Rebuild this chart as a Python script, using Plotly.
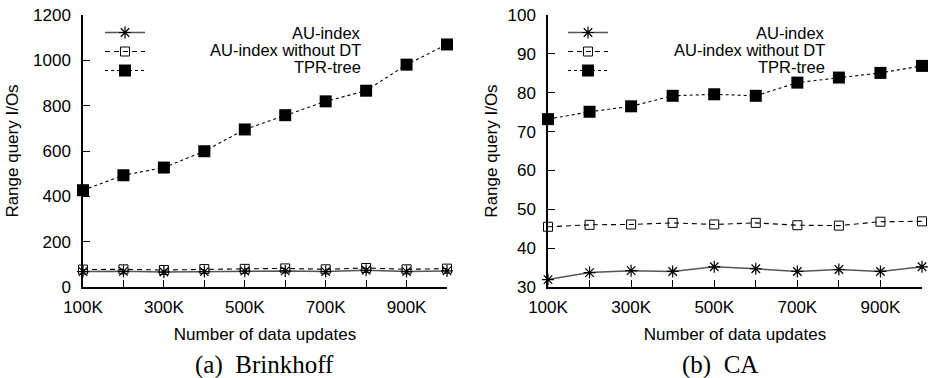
import plotly.graph_objects as go

x_vals = [100000, 200000, 300000, 400000, 500000, 600000, 700000, 800000, 900000, 1000000]
x_ticktext = ["100K", "", "300K", "", "500K", "", "700K", "", "900K", ""]
series_names = ["AU-index", "AU-index without DT", "TPR-tree"]

brink_au = [68, 69, 66, 68, 70, 71, 68, 74, 68, 71]
brink_nodt = [77, 78, 75, 79, 80, 82, 78, 84, 78, 81]
brink_tpr = [427, 493, 527, 599, 695, 758, 819, 866, 981, 1070]

ca_au = [31.9, 33.7, 34.2, 34.0, 35.2, 34.7, 34.0, 34.5, 34.0, 35.2]
ca_nodt = [45.5, 46.0, 46.1, 46.5, 46.1, 46.5, 45.9, 45.8, 46.8, 46.9]
ca_tpr = [73.2, 75.1, 76.5, 79.2, 79.6, 79.2, 82.6, 83.9, 85.1, 86.9]

W, H = 929, 378
FONT = "Liberation Sans, Arial, sans-serif"

styles = [
    dict(line=dict(color="#555555", width=1.5, dash="solid"),
         marker=dict(symbol="asterisk-open", size=10, color="black", line=dict(color="black", width=1.2))),
    dict(line=dict(color="black", width=1.1, dash="5px,4px"),
         marker=dict(symbol="square-open", size=9, color="black", line=dict(color="black", width=1))),
    dict(line=dict(color="black", width=1.1, dash="dot"),
         marker=dict(symbol="square", size=12, color="black", line=dict(color="black", width=0))),
]

fig = go.Figure()

panels = [
    ("x", "y", "legend", [brink_au, brink_nodt, brink_tpr]),
    ("x2", "y2", "legend2", [ca_au, ca_nodt, ca_tpr]),
]
for xa, ya, lg, data in panels:
    for name, vals, st in zip(series_names, data, styles):
        fig.add_trace(go.Scatter(
            x=x_vals, y=vals, mode="lines+markers", name=" ",
            line=st["line"], marker=st["marker"], xaxis=xa, yaxis=ya,
            legend=lg, cliponaxis=False, showlegend=True,
        ))

px_x = lambda p: p / W
px_y = lambda p: 1 - p / H

axis_common = dict(
    showline=True, linecolor="black", linewidth=1.5, ticks="inside", ticklen=7,
    tickwidth=1.2, tickcolor="black", showgrid=False, zeroline=False, mirror=False,
    automargin=False,
    tickfont=dict(family=FONT, size=17, color="black"),
)

xdom1 = [px_x(83), px_x(447)]
xdom2 = [px_x(548), px_x(922)]
ydom = [px_y(287), px_y(15)]

for key, dom, anchor in [("xaxis", xdom1, "y"), ("xaxis2", xdom2, "y2")]:
    fig.layout[key] = dict(
        axis_common, domain=dom, anchor=anchor, range=[100000, 1000000],
        tickvals=x_vals, ticktext=x_ticktext, ticklabelstandoff=4,
        title=dict(text="Number of data updates", font=dict(family=FONT, size=17, color="black"), standoff=12),
    )

fig.layout["yaxis"] = dict(
    axis_common, domain=ydom, anchor="x", range=[0, 1200], dtick=200, ticklabelstandoff=7,
    title=dict(text="Range query I/Os", font=dict(family=FONT, size=17, color="black"), standoff=10),
)
fig.layout["yaxis2"] = dict(
    axis_common, domain=ydom, anchor="x2", range=[30, 100], dtick=10, ticklabelstandoff=7,
    title=dict(text="Range query I/Os", font=dict(family=FONT, size=17, color="black"), standoff=6),
)

leg_common = dict(
    bgcolor="rgba(0,0,0,0)", borderwidth=0, font=dict(family=FONT, size=10, color="black"),
    yanchor="top", xanchor="left", tracegroupgap=0, itemwidth=40, traceorder="normal",
)
fig.layout["legend"] = dict(leg_common, x=px_x(100), y=px_y(18))
fig.layout["legend2"] = dict(leg_common, x=px_x(563), y=px_y(18))

annotations = []
for right_px in (363, 827):
    for i, name in enumerate(series_names):
        annotations.append(dict(
            text=name, xref="paper", yref="paper", x=px_x(right_px), y=px_y(32 + 17.5 * i),
            xanchor="right", yanchor="middle", showarrow=False, height=17,
            font=dict(family=FONT, size=16.5, color="black"),
        ))
for cx, cap in ((264, "(a)\u00a0\u00a0Brinkhoff"), (720, "(b)\u00a0\u00a0CA")):
    annotations.append(dict(
        text=cap, xref="paper", yref="paper", x=px_x(cx), y=px_y(365),
        xanchor="center", yanchor="middle", showarrow=False,
        font=dict(family="Liberation Serif, Times New Roman, serif", size=25, color="black"),
    ))

fig.update_layout(
    width=W, height=H, margin=dict(l=0, r=0, t=0, b=0),
    paper_bgcolor="white", plot_bgcolor="white",
    annotations=annotations,
)

fig.write_html("out.html")
